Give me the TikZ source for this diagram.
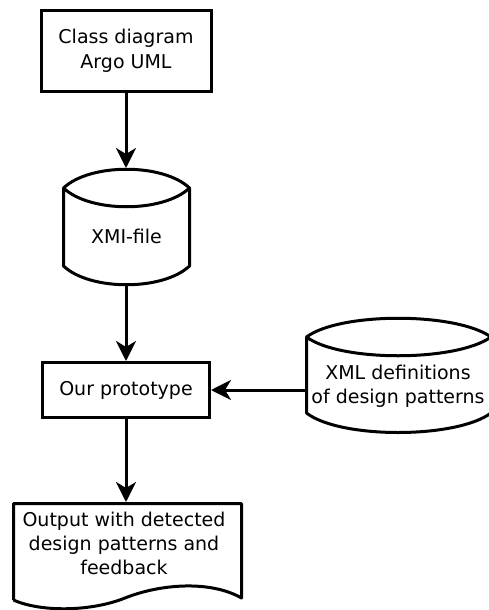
\documentclass[tikz,border=0pt]{standalone}
\usepackage{fontspec}
\setmainfont{DejaVu Sans}
\usetikzlibrary{arrows.meta}
\begin{document}
\begin{tikzpicture}[x=1pt,y=-1pt,
  shp/.style={line width=3pt, line join=round},
  proc/.style={draw, line width=3pt, inner sep=0pt, align=center, font=\fontsize{19}{24.5}\selectfont},
  lbl/.style={inner sep=0pt, align=center, font=\fontsize{19}{24}\selectfont},
  flow/.style={line width=3pt, -{Stealth[length=20pt,width=20pt,inset=6pt]}}]
\useasboundingbox (0,0) rectangle (489,610);
% top box
\node[proc, minimum width=170pt, minimum height=80pt] (cls) at (126,51) {Class diagram\\Argo UML};
% XMI cylinder
\draw[shp] (63.5,188) .. controls (90,163) and (163,163) .. (189.5,188)
  .. controls (163,213) and (90,213) .. (63.5,188) -- (63.5,266)
  .. controls (90,291) and (163,291) .. (189.5,266) -- (189.5,188);
\node[lbl, minimum width=126pt, minimum height=116pt] (xmi) at (126.5,227) {};
\node[lbl] (xmit) at (126.5,236) {XMI-file};
% prototype box
\node[proc, minimum width=167pt, minimum height=55pt] (proto) at (126,390) {Our prototype};
% XML cylinder
\draw[shp] (306.5,337) .. controls (340,312) and (456,312) .. (491,337)
  .. controls (456,362) and (340,362) .. (306.5,337) -- (306.5,413)
  .. controls (340,439) and (456,439) .. (491,413) -- (491,337);
\node[lbl, minimum width=183pt, minimum height=114pt] (xml) at (398,376) {};
\node[lbl] (xmlt) at (398,386) {XML definitions\\of design patterns};
% output document
\draw[shp] (13.5,600) -- (13.5,503.5) -- (241.5,503.5) -- (241.5,598)
  .. controls (210,580) and (160,584) .. (125,598)
  .. controls (90,612) and (40,612) .. (13.5,600);
\node[lbl, minimum width=228pt, minimum height=100pt] (out) at (127.5,552) {};
\node[lbl] (outt) at (124,543) {Output with detected\\design patterns and\\feedback};
% connectors
\draw[flow] (cls.south) -- (126,168);
\draw[flow] (126,285) -- (proto.north);
\draw[flow] (proto.south) -- (126,502);
\draw[flow] (xml.west |- proto.east) -- (proto.east);
\end{tikzpicture}
\end{document}
